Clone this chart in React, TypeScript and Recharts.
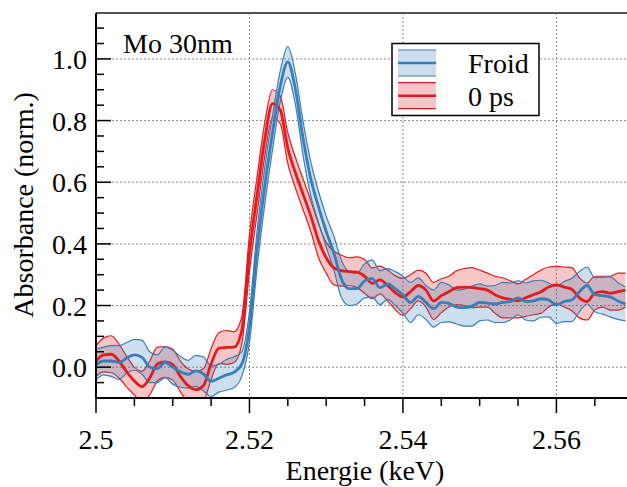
import {
    ComposedChart,
    XAxis,
    YAxis,
    CartesianGrid,
    Area,
    Line,
    ReferenceLine,
    Customized
} from 'recharts'

// energy grid (keV)
const energies = [
    2.500, 2.501, 2.502, 2.503, 2.504, 2.505, 2.506, 2.507, 2.508, 2.509,
    2.510, 2.511, 2.512, 2.513, 2.514, 2.515, 2.516, 2.517, 2.518, 2.519,
    2.520, 2.521, 2.522, 2.523, 2.524, 2.525, 2.526, 2.527, 2.528, 2.529,
    2.530, 2.531, 2.532, 2.533, 2.534, 2.535, 2.536, 2.537, 2.538, 2.539,
    2.540, 2.541, 2.542, 2.543, 2.544, 2.545, 2.546, 2.547, 2.548, 2.549,
    2.550, 2.551, 2.552, 2.553, 2.554, 2.555, 2.556, 2.557, 2.558, 2.559,
    2.560, 2.561, 2.562, 2.563, 2.564, 2.565, 2.566, 2.567, 2.568, 2.569
]

// "Froid" (blue)
const froid = [
    0.008, 0.02, 0.02, 0.015, 0.03, 0.04, 0.032, 0.0, -0.005, 0.016,
    0.0, -0.015, -0.023, -0.012, -0.022, -0.046, -0.036, -0.025, -0.016, 0.01,
    0.13, 0.385, 0.59, 0.76, 0.91, 0.99, 0.9, 0.74, 0.61, 0.52,
    0.44, 0.37, 0.285, 0.255, 0.255, 0.28, 0.287, 0.258, 0.27, 0.255,
    0.235, 0.21, 0.23, 0.21, 0.19, 0.21, 0.207, 0.195, 0.193, 0.198,
    0.21, 0.208, 0.205, 0.21, 0.213, 0.225, 0.213, 0.215, 0.222, 0.218,
    0.202, 0.213, 0.218, 0.245, 0.265, 0.235, 0.232, 0.228, 0.215, 0.205
]
const froidErr = [
    0.05, 0.045, 0.05, 0.055, 0.05, 0.05, 0.055, 0.05, 0.045, 0.05,
    0.055, 0.05, 0.045, 0.05, 0.055, 0.05, 0.045, 0.05, 0.05, 0.04,
    0.05, 0.06, 0.06, 0.055, 0.05, 0.05, 0.05, 0.055, 0.055, 0.05,
    0.05, 0.055, 0.06, 0.055, 0.05, 0.055, 0.06, 0.055, 0.05, 0.055,
    0.06, 0.065, 0.06, 0.055, 0.06, 0.065, 0.06, 0.055, 0.06, 0.065,
    0.06, 0.055, 0.06, 0.065, 0.06, 0.055, 0.06, 0.065, 0.06, 0.055,
    0.06, 0.065, 0.07, 0.065, 0.06, 0.055, 0.06, 0.065, 0.06, 0.055
]

// "0 ps" (red)
const zeroPs = [
    0.02, 0.04, 0.042, 0.02, -0.015, -0.045, -0.063, -0.035, 0.01, 0.017,
    0.008, -0.03, -0.06, -0.073, -0.06, 0.01, 0.062, 0.064, 0.065, 0.12,
    0.37, 0.56, 0.74, 0.855, 0.835, 0.71, 0.63, 0.56, 0.49, 0.41,
    0.355, 0.322, 0.313, 0.31, 0.308, 0.295, 0.272, 0.283, 0.265, 0.242,
    0.228, 0.245, 0.265, 0.25, 0.215, 0.232, 0.245, 0.258, 0.26, 0.258,
    0.255, 0.25, 0.235, 0.225, 0.22, 0.215, 0.225, 0.235, 0.245, 0.26,
    0.267, 0.26, 0.253, 0.225, 0.213, 0.24, 0.245, 0.24, 0.245, 0.25
]
const zeroPsErr = [
    0.05, 0.055, 0.06, 0.055, 0.05, 0.045, 0.05, 0.055, 0.055, 0.05,
    0.05, 0.05, 0.055, 0.06, 0.055, 0.05, 0.05, 0.055, 0.05, 0.045,
    0.06, 0.06, 0.055, 0.045, 0.045, 0.05, 0.05, 0.05, 0.05, 0.055,
    0.05, 0.055, 0.05, 0.045, 0.05, 0.055, 0.05, 0.045, 0.05, 0.055,
    0.06, 0.055, 0.05, 0.055, 0.06, 0.055, 0.05, 0.055, 0.06, 0.065,
    0.06, 0.055, 0.06, 0.065, 0.06, 0.055, 0.06, 0.065, 0.07, 0.065,
    0.06, 0.065, 0.07, 0.065, 0.06, 0.055, 0.05, 0.055, 0.06, 0.055
]

const xMajor = [2.5, 2.52, 2.54, 2.56]
const xTicks = [
    2.5, 2.505, 2.51, 2.515, 2.52, 2.525, 2.53, 2.535,
    2.54, 2.545, 2.55, 2.555, 2.56, 2.565
]
const yMajor = [0, 0.2, 0.4, 0.6, 0.8, 1.0]
const yTicks = [
    -0.1, -0.05, 0, 0.05, 0.1, 0.15, 0.2, 0.25, 0.3, 0.35, 0.4, 0.45,
    0.5, 0.55, 0.6, 0.65, 0.7, 0.75, 0.8, 0.85, 0.9, 0.95, 1.0, 1.05, 1.1
]

const X_DOMAIN = [2.5, 2.5692]
const Y_DOMAIN = [-0.1, 1.149]

const BLUE = '#377eb8'
const RED = '#e41a1c'
const FONT = 'Liberation Serif'

const series = [
    { name: 'Froid', color: BLUE },
    { name: '0 ps', color: RED }
]

const data = energies.map((e, i) => ({
    e,
    froid: froid[i],
    froidBand: [froid[i] - froidErr[i], froid[i] + froidErr[i]],
    zeroPs: zeroPs[i],
    zeroPsBand: [zeroPs[i] - zeroPsErr[i], zeroPs[i] + zeroPsErr[i]]
}))

const isIn = (list: number[], v: number) => list.some(m => Math.abs(m - v) < 1e-9)

const XTick = (props: any) => {
    const { x, y, payload } = props
    const major = isIn(xMajor, payload.value)
    return (
        <g>
            <line x1={x} x2={x} y1={y} y2={y + (major ? 15 : 8)} stroke="#000" strokeWidth={1.5} />
            {major && (
                <text x={x} y={y + 51} textAnchor="middle" fontFamily={FONT} fontSize={28} fill="#000">
                    {String(payload.value)}
                </text>
            )}
        </g>
    )
}

const YTick = (props: any) => {
    const { x, y, payload } = props
    const major = isIn(yMajor, payload.value)
    return (
        <g>
            <line x1={x} x2={x + (major ? 15 : 8)} y1={y} y2={y} stroke="#000" strokeWidth={1.5} />
            {major && (
                <text x={x - 9} y={y + 10} textAnchor="end" fontFamily={FONT} fontSize={28} fill="#000">
                    {payload.value.toFixed(1)}
                </text>
            )}
        </g>
    )
}

const Extras = () => (
    <g>
        <text x={123} y={53} fontFamily={FONT} fontSize={28} fill="#000">Mo 30nm</text>
        <rect x={392} y={43.5} width={147} height={72} fill="#fff" stroke="#000" strokeWidth={1.5} />
        {series.map((s, i) => {
            const top = 50 + i * 32.7
            return (
                <g key={s.name}>
                    <rect x={398} y={top} width={38} height={26} fill={s.color} fillOpacity={0.25} />
                    <line x1={398} x2={436} y1={top} y2={top} stroke={s.color} strokeWidth={1.2} />
                    <line x1={398} x2={436} y1={top + 26} y2={top + 26} stroke={s.color} strokeWidth={1.2} />
                    <line x1={398} x2={436} y1={top + 13} y2={top + 13} stroke={s.color} strokeWidth={2.5} />
                    <text x={468} y={top + 23} fontFamily={FONT} fontSize={28} fill="#000">{s.name}</text>
                </g>
            )
        })}
        <text
            x={33}
            y={205}
            transform="rotate(-90 33 205)"
            textAnchor="middle"
            fontFamily={FONT}
            fontSize={28}
            fill="#000"
        >
            Absorbance (norm.)
        </text>
        <text x={365} y={480} textAnchor="middle" fontFamily={FONT} fontSize={28} fill="#000">
            Energie (keV)
        </text>
    </g>
)

const App = () => {
    return (
        <div style={{ position: 'absolute', left: 0, top: 0, background: '#fff', fontFamily: FONT }}>
            <ComposedChart
                width={627}
                height={487}
                data={data}
                margin={{ top: 13, right: 0, bottom: 0, left: 0 }}
            >
                <CartesianGrid
                    stroke="#888"
                    strokeDasharray="2 2"
                    horizontalValues={yMajor}
                    verticalValues={xMajor}
                />
                <XAxis
                    dataKey="e"
                    type="number"
                    domain={X_DOMAIN}
                    allowDataOverflow
                    ticks={xTicks}
                    interval={0}
                    tick={<XTick />}
                    tickLine={false}
                    tickSize={0}
                    tickMargin={0}
                    height={89}
                    axisLine={{ stroke: '#000', strokeWidth: 2 }}
                />
                <YAxis
                    type="number"
                    domain={Y_DOMAIN}
                    allowDataOverflow
                    ticks={yTicks}
                    interval={0}
                    tick={<YTick />}
                    tickLine={false}
                    tickSize={0}
                    tickMargin={0}
                    width={96}
                    axisLine={{ stroke: '#000', strokeWidth: 2 }}
                />
                <ReferenceLine y={Y_DOMAIN[1]} stroke="#555" strokeWidth={2} />
                <Area
                    dataKey="zeroPsBand"
                    type="monotone"
                    stroke={RED}
                    strokeWidth={1.2}
                    fill={RED}
                    fillOpacity={0.25}
                    isAnimationActive={false}
                />
                <Area
                    dataKey="froidBand"
                    type="monotone"
                    stroke={BLUE}
                    strokeWidth={1.2}
                    fill={BLUE}
                    fillOpacity={0.25}
                    isAnimationActive={false}
                />
                <Line
                    dataKey="zeroPs"
                    type="monotone"
                    stroke={RED}
                    strokeWidth={2.8}
                    dot={false}
                    isAnimationActive={false}
                />
                <Line
                    dataKey="froid"
                    type="monotone"
                    stroke={BLUE}
                    strokeWidth={2.8}
                    dot={false}
                    isAnimationActive={false}
                />
                <Customized component={Extras} />
            </ComposedChart>
        </div>
    )
}

export default App
